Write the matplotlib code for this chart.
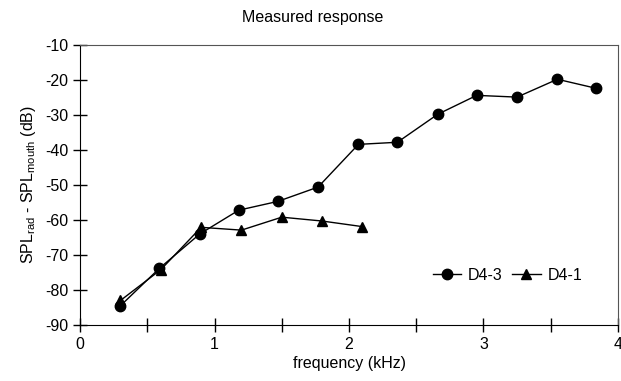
import matplotlib
matplotlib.use('Agg')
import matplotlib.pyplot as plt
from matplotlib.ticker import MultipleLocator

plt.rcParams['font.family'] = ['Liberation Sans', 'DejaVu Sans']
plt.rcParams['mathtext.fontset'] = 'custom'
plt.rcParams['mathtext.rm'] = 'Liberation Sans'
plt.rcParams['axes.unicode_minus'] = False

freq_d43 = [0.30, 0.59, 0.89, 1.18, 1.47, 1.77, 2.07, 2.36, 2.66, 2.95, 3.25, 3.55, 3.84]
spl_d43 = [-84.5, -73.8, -64.0, -57.2, -54.7, -50.6, -38.4, -37.8, -29.8, -24.4, -24.9, -19.8, -22.4]

freq_d41 = [0.30, 0.60, 0.90, 1.20, 1.50, 1.80, 2.10]
spl_d41 = [-83.0, -74.2, -62.1, -62.9, -59.2, -60.3, -61.9]

fs = 11.5

fig = plt.figure(figsize=(6.21, 3.81), dpi=100)
ax = fig.add_axes([0.129, 0.147, 0.866, 0.735])

ax.plot(freq_d43, spl_d43, color='black', lw=1, marker='o', ms=7.5, label='D4-3')
ax.plot(freq_d41, spl_d41, color='black', lw=1, marker='^', ms=7, label='D4-1')

ax.set_xlim(0, 4)
ax.set_ylim(-90, -10)
ax.xaxis.set_major_locator(MultipleLocator(1))
ax.xaxis.set_minor_locator(MultipleLocator(0.5))
ax.yaxis.set_major_locator(MultipleLocator(10))
ax.tick_params(axis='both', which='both', direction='inout', length=10, width=1,
               labelsize=fs, top=False, right=False)
for s in ['top', 'right']:
    ax.spines[s].set_linewidth(0.8)
    ax.spines[s].set_color('#555555')

ax.set_xlabel('frequency (kHz)', fontsize=fs, labelpad=3)
ax.set_ylabel(r'SPL$_{\mathrm{rad}}$ - SPL$_{\mathrm{mouth}}$ (dB)', fontsize=fs, labelpad=5)
fig.text(0.504, 0.955, 'Measured response', ha='center', va='center', fontsize=fs)

ax.legend(loc='lower right', bbox_to_anchor=(0.96, 0.10), frameon=False, ncol=2,
          fontsize=fs, handlelength=1.8, columnspacing=0.6, handletextpad=0.4)

fig.savefig('out.png', dpi=100)
